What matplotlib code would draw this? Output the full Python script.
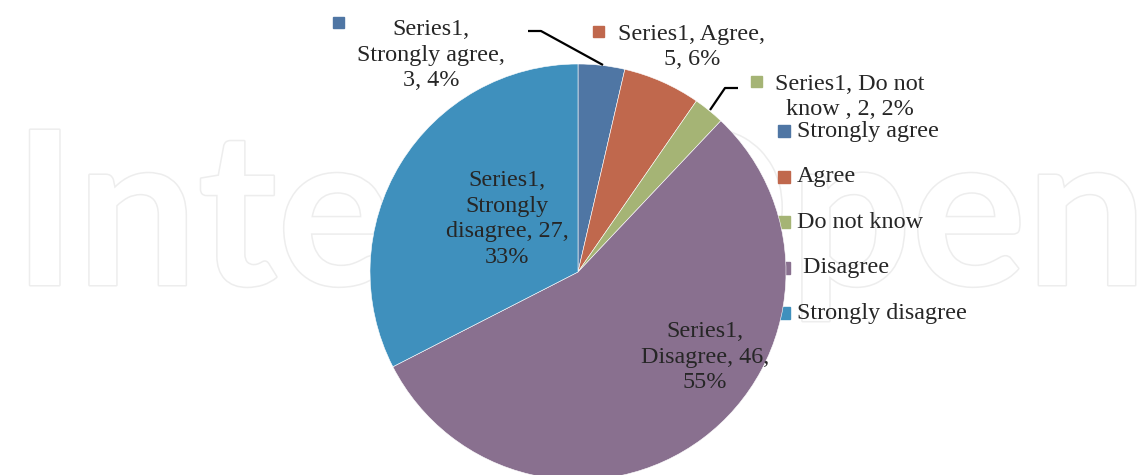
import matplotlib
matplotlib.use("Agg")
import matplotlib.pyplot as plt
import matplotlib.patheffects as pe
from matplotlib.patches import Rectangle

# ---------------- data ----------------
series_name = "Series1"
categories = ["Strongly agree", "Agree", "Do not know", "Disagree", "Strongly disagree"]
counts = [3, 5, 2, 46, 27]
percent_labels = ["4%", "6%", "2%", "55%", "33%"]
label_texts = [
    "Series1,\nStrongly agree,\n3, 4%",
    "Series1, Agree,\n5, 6%",
    "Series1, Do not\nknow , 2, 2%",
    "Series1,\nDisagree, 46,\n55%",
    "Series1,\nStrongly\ndisagree, 27,\n33%",
]
legend_labels = ["Strongly agree", "Agree", "Do not know", " Disagree", "Strongly disagree"]
colors = ["#4F76A4", "#C0684D", "#A5B475", "#89708F", "#3F90BD"]
watermark = "IntechOpen"

# ---------------- layout (pixel coordinates, y measured from top) ----------------
W, H = 1140, 475
fig = plt.figure(figsize=(W / 100, H / 100), dpi=100)
ax = fig.add_axes([0, 0, 1, 1])

def Y(y):
    return H - y

TXT = "#262626"
FONT = "Liberation Serif"
FS = 17.4
LS = 1.3

# watermark, fitted to width
wm = ax.text(13, Y(285), watermark, fontsize=100, family="Lato", weight="bold",
             color="white", ha="left", va="baseline", zorder=0,
             path_effects=[pe.withStroke(linewidth=2.2, foreground="#ededed")])
fig.canvas.draw()
bb = wm.get_window_extent()
wm.set_fontsize(100 * 1134 / bb.width)

# pie
cx, cy, r = 578, Y(272), 208
wedges, _ = ax.pie(counts, colors=colors, startangle=90, counterclock=False,
                   center=(cx, cy), radius=r, frame=True,
                   wedgeprops=dict(edgecolor="white", linewidth=0.4))
for w in wedges:
    w.set_zorder(2)
ax.set_xlim(0, W)
ax.set_ylim(0, H)
ax.set_aspect("equal")
ax.axis("off")

# data labels
label_pos = [(431, 55), (692, 47), (850, 97), (705, 357), (507, 219)]
key_pos = [(338, 22), (598, 31), (756, 81), None, None]
for i, txt in enumerate(label_texts):
    x, y = label_pos[i]
    ax.text(x, Y(y), txt, ha="center", va="center", fontsize=FS, family=FONT,
            color=TXT, linespacing=LS, zorder=5)
    if key_pos[i] is not None:
        kx, ky = key_pos[i]
        ax.add_patch(Rectangle((kx - 5.5, Y(ky) - 5.5), 11, 11, color=colors[i], zorder=5))

# leader lines
leaders = [
    [(528, 31), (541, 31), (603, 65)],
    [(738, 88), (725, 88), (710, 110)],
]
for pts in leaders:
    ax.plot([p[0] for p in pts], [Y(p[1]) for p in pts], color="black", lw=1.6,
            zorder=6, solid_capstyle="butt")

# legend
leg_x = 778
leg_y0 = 131
leg_dy = 45.5
for i, lab in enumerate(legend_labels):
    y = leg_y0 + i * leg_dy
    ax.add_patch(Rectangle((leg_x, Y(y) - 6), 12, 12, color=colors[i], zorder=1))
    ax.text(leg_x + 19, Y(y), lab, ha="left", va="center", fontsize=FS, family=FONT,
            color=TXT, zorder=5)

fig.savefig("out.png", dpi=100)
